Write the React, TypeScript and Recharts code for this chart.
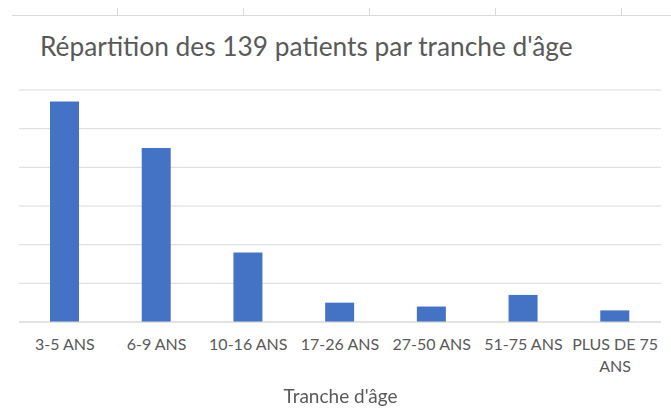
import { BarChart, Bar, XAxis, YAxis, CartesianGrid } from 'recharts'

const categories = ['3-5 ANS', '6-9 ANS', '10-16 ANS', '17-26 ANS', '27-50 ANS', '51-75 ANS', 'PLUS DE 75 ANS']
const patients = [57, 45, 18, 5, 4, 7, 3]
const yTicks = [0, 10, 20, 30, 40, 50, 60]
const topTicks = [117, 243, 369, 495, 621]

const data = categories.map((name, i) => ({ name, patients: patients[i] }))

const FONT = 'Lato, "Open Sans", sans-serif'
const GREY = '#595959'

function splitLabel(label: string): string[] {
  if (label.length <= 11) return [label]
  const cut = label.lastIndexOf(' ')
  return [label.slice(0, cut), label.slice(cut + 1)]
}

function AgeTick(props: any) {
  const { x, y, payload } = props
  const lines = splitLabel(String(payload.value))
  return (
    <text x={x} y={y} textAnchor="middle" fill={GREY} fontSize={16} fontFamily={FONT}>
      {lines.map((l, i) => (
        <tspan key={i} x={x} dy={i === 0 ? 20 : 22}>
          {l}
        </tspan>
      ))}
    </text>
  )
}

export default function App() {
  return (
    <div style={{ position: 'fixed', left: 0, top: 0, width: 671, height: 419, background: '#fff' }}>
      {/* bit of the chart above, cropped */}
      <div style={{ position: 'absolute', left: 12, right: 0, top: 15, borderTop: '1px solid #d9d9d9' }} />
      {topTicks.map((x) => (
        <div key={x} style={{ position: 'absolute', left: x, top: 8, height: 7, borderLeft: '1px solid #d9d9d9' }} />
      ))}
      <div
        style={{
          position: 'absolute',
          left: 40,
          top: 30,
          fontFamily: FONT,
          fontSize: 26.3,
          color: GREY,
          whiteSpace: 'nowrap',
        }}
      >
        Répartition des 139 patients par tranche d'âge
      </div>
      <BarChart
        width={671}
        height={419}
        data={data}
        margin={{ top: 90, right: 10, bottom: 37, left: 19 }}
        barCategoryGap="34%"
      >
        <CartesianGrid vertical={false} stroke="#d9d9d9" />
        <YAxis hide domain={[0, 60]} ticks={yTicks} />
        <XAxis
          dataKey="name"
          interval={0}
          tickLine={false}
          axisLine={{ stroke: '#d9d9d9' }}
          tick={<AgeTick />}
          height={60}
        />
        <Bar dataKey="patients" fill="#4472C4" barSize={29} isAnimationActive={false} />
      </BarChart>
      <div
        style={{
          position: 'absolute',
          left: 0,
          width: 681,
          top: 384,
          textAlign: 'center',
          fontFamily: FONT,
          fontSize: 19,
          color: GREY,
        }}
      >
        Tranche d'âge
      </div>
    </div>
  )
}
